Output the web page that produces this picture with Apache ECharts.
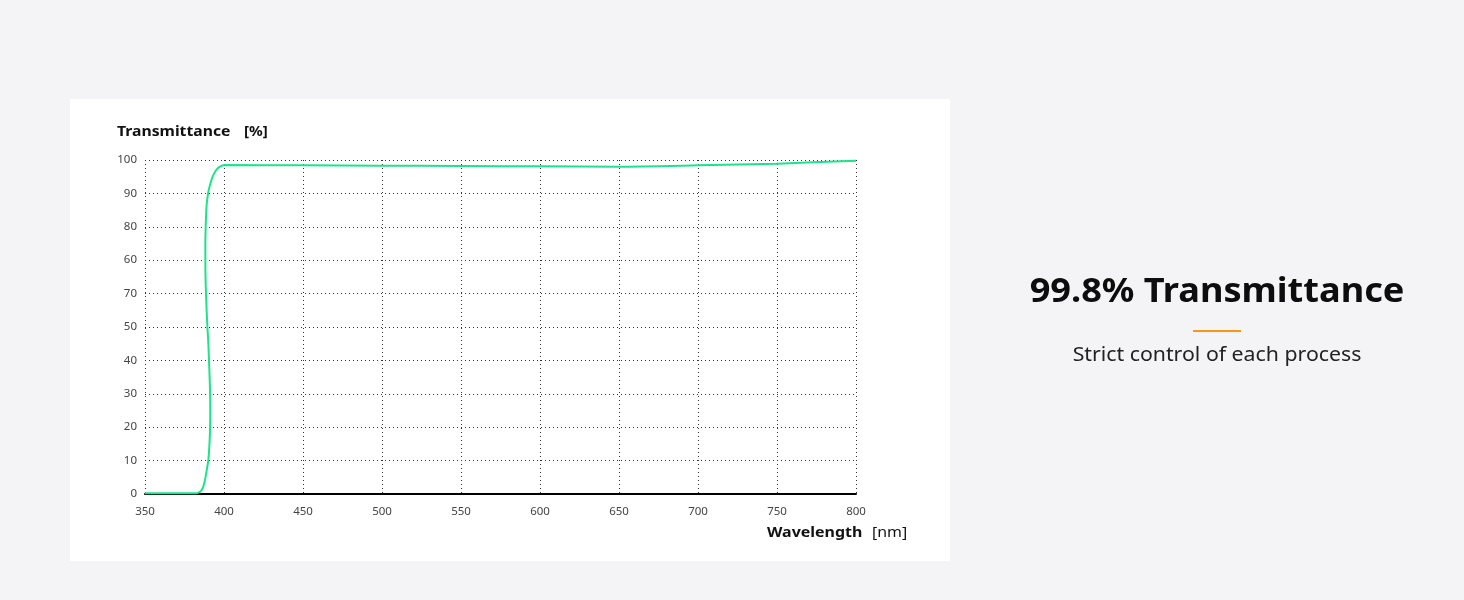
<!DOCTYPE html>
<html>
<head>
<meta charset="utf-8">
<script src="https://cdn.jsdelivr.net/npm/echarts@6/dist/echarts.min.js"></script>
<style>
html,body{margin:0;padding:0;background:#f4f4f6;}
#c{width:1464px;height:600px;}
</style>
</head>
<body>
<div id="c"></div>
<script>
// Data
const wavelength = [350, 365, 380, 382.6, 384.2, 385.6, 386.9, 388.1, 389.1, 390.1, 390.8, 391.2, 391.3, 391.2, 390.9, 390.5, 390.1, 389.5, 389.0, 388.6, 388.3, 388.2, 388.2, 388.4, 388.7, 389.1, 390.1, 391.2, 392.4, 393.8, 395.4, 397.5, 400, 450, 500, 550, 600, 650, 700, 750, 800];
const transmittance = [0.2, 0.2, 0.2, 0.25, 0.5, 1.0, 2.2, 4.5, 7.2, 10.2, 15, 20, 25, 30, 35, 40, 45, 50, 55, 60, 65, 70, 75, 80, 84, 87, 90.5, 92.6, 94.5, 96.0, 97.2, 98.0, 98.5, 98.4, 98.3, 98.2, 98.1, 98.0, 98.4, 98.9, 99.8];
const xTickLabels = ['350','400','450','500','550','600','650','700','750','800'];
const yTickLabels = ['0','10','20','30','40','50','70','60','80','90','100'];
const yAxisTitle = 'Transmittance';
const yAxisUnit = '[%]';
const xAxisTitle = 'Wavelength';
const xAxisUnit = '[nm]';
const headline = '99.8% Transmittance';
const subline = 'Strict control of each process';

const FONT = '"Noto Sans", "Open Sans", sans-serif';
const chart = echarts.init(document.getElementById('c'), null, {renderer: 'canvas'});
const dotted = {color: '#333', width: 1, type: [1, 3]};

chart.setOption({
  backgroundColor: '#f4f4f6',
  animation: false,
  grid: {left: 145, right: 608, top: 160, bottom: 106, containLabel: false},
  xAxis: {
    type: 'value', min: 350, max: 800, interval: 50,
    axisLine: {show: true, onZero: false, lineStyle: {color: '#000', width: 2}},
    axisTick: {show: false},
    axisLabel: {color: '#444', fontSize: 11.5, fontFamily: FONT, margin: 12,
      formatter: v => xTickLabels[Math.round((v - 350) / 50)] ?? ''},
    splitLine: {show: true, lineStyle: dotted}
  },
  yAxis: {
    type: 'value', min: 0, max: 100, interval: 10,
    axisLine: {show: false},
    axisTick: {show: false},
    axisLabel: {color: '#444', fontSize: 11.5, fontFamily: FONT, margin: 8,
      formatter: v => yTickLabels[Math.round(v / 10)] ?? ''},
    splitLine: {show: true, lineStyle: dotted}
  },
  series: [{
    type: 'line',
    data: wavelength.map((w, i) => [w, transmittance[i]]),
    showSymbol: false,
    smooth: 0.25,
    lineStyle: {color: '#1ee38d', width: 2},
    z: 5
  }],
  graphic: [
    {type: 'rect', z: -10, silent: true, shape: {x: 70, y: 99, width: 880, height: 462}, style: {fill: '#ffffff'}},
    {type: 'text', x: 117, y: 132, scaleX: 1.085, style: {
      text: yAxisTitle, fontFamily: FONT, fontWeight: 'bold', fontSize: 14.5, fill: '#111', verticalAlign: 'middle'
    }},
    {type: 'text', x: 244, y: 132, scaleX: 1.05, style: {
      text: yAxisUnit, fontFamily: FONT, fontWeight: 'bold', fontSize: 14.5, fill: '#111', verticalAlign: 'middle'
    }},
    {type: 'text', x: 767, y: 533, scaleX: 1.1, style: {
      text: xAxisTitle, fontFamily: FONT, fontWeight: 'bold', fontSize: 14.5, fill: '#111', verticalAlign: 'middle'
    }},
    {type: 'text', x: 872, y: 533, scaleX: 1.1, style: {
      text: xAxisUnit, fontFamily: FONT, fontWeight: 'normal', fontSize: 14.5, fill: '#111', verticalAlign: 'middle'
    }},
    {type: 'text', x: 1217, y: 292, scaleX: 1.063, style: {
      text: headline, fontFamily: FONT, fontWeight: 'bold', fontSize: 34, fill: '#0d0d0d',
      align: 'center', verticalAlign: 'middle'
    }},
    {type: 'rect', shape: {x: 1193, y: 330, width: 48, height: 2}, style: {fill: '#f39a1e'}},
    {type: 'text', x: 1217, y: 356, scaleX: 1.12, style: {
      text: subline, fontFamily: FONT, fontSize: 19, fill: '#222',
      align: 'center', verticalAlign: 'middle'
    }}
  ]
});
</script>
</body>
</html>
